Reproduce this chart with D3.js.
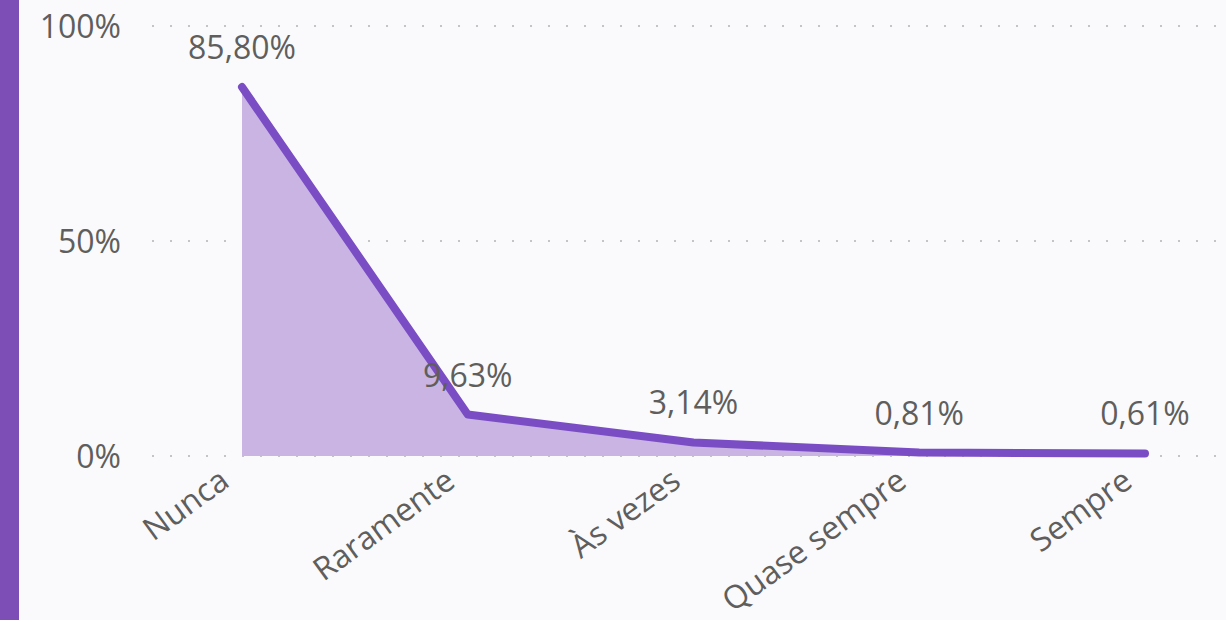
<!DOCTYPE html>
<html>
<head>
<meta charset="utf-8">
<script src="https://cdn.jsdelivr.net/npm/d3@7"></script>
<style>
  html, body { margin: 0; padding: 0; background: #fafafc; }
  svg { display: block; }
  text { font-family: "Open Sans", "Noto Sans", sans-serif; fill: #605e5c; }
</style>
</head>
<body>
<svg id="chart" width="1226" height="620"></svg>
<script>
// Response frequency distribution
const categories = ["Nunca", "Raramente", "Às vezes", "Quase sempre", "Sempre"];
const values = [85.80, 9.63, 3.14, 0.81, 0.61];
const yTicks = [0, 50, 100];
const yTickLabels = ["0%", "50%", "100%"];

const W = 1226, H = 620;
const svg = d3.select("#chart");

// left accent strip
svg.append("rect").attr("x", 0).attr("y", 0).attr("width", 19).attr("height", H)
  .attr("fill", "#7d4fb6");

const x = d3.scalePoint().domain(categories).range([242, 1145]);
const y = d3.scaleLinear().domain([0, 100]).range([456, 26]);

const fmt = v => d3.format(".2f")(v).replace(".", ",") + "%";

// dotted gridlines
svg.append("g").selectAll("line").data(yTicks).join("line")
  .attr("x1", 152).attr("x2", W)
  .attr("y1", d => y(d)).attr("y2", d => y(d))
  .attr("stroke", "#c4c4c8").attr("stroke-width", 2)
  .attr("stroke-dasharray", "2 16");

// y axis labels
svg.append("g").selectAll("text").data(yTicks).join("text")
  .attr("x", 121).attr("y", d => y(d)).attr("dy", "0.36em")
  .attr("text-anchor", "end").attr("font-size", 32)
  .text((d, i) => yTickLabels[i]);

const pts = categories.map((c, i) => ({ c, v: values[i] }));

// area fill
svg.append("path").datum(pts)
  .attr("d", d3.area().x(d => x(d.c)).y0(y(0)).y1(d => y(d.v)))
  .attr("fill", "#c9b4e4");

// line
svg.append("path").datum(pts)
  .attr("d", d3.line().x(d => x(d.c)).y(d => y(d.v)))
  .attr("fill", "none").attr("stroke", "#7b4dc5").attr("stroke-width", 8)
  .attr("stroke-linecap", "round").attr("stroke-linejoin", "round");

// data labels
svg.append("g").selectAll("text").data(pts).join("text")
  .attr("x", d => x(d.c)).attr("y", d => y(d.v) - 28)
  .attr("text-anchor", "middle").attr("font-size", 32)
  .text(d => fmt(d.v));

// x axis labels, rotated
svg.append("g").selectAll("text").data(categories).join("text")
  .attr("transform", d => `translate(${x(d) - 24},${467}) rotate(-36)`)
  .attr("text-anchor", "end").attr("dy", "0.7em").attr("font-size", 32)
  .text(d => d);
</script>
</body>
</html>
